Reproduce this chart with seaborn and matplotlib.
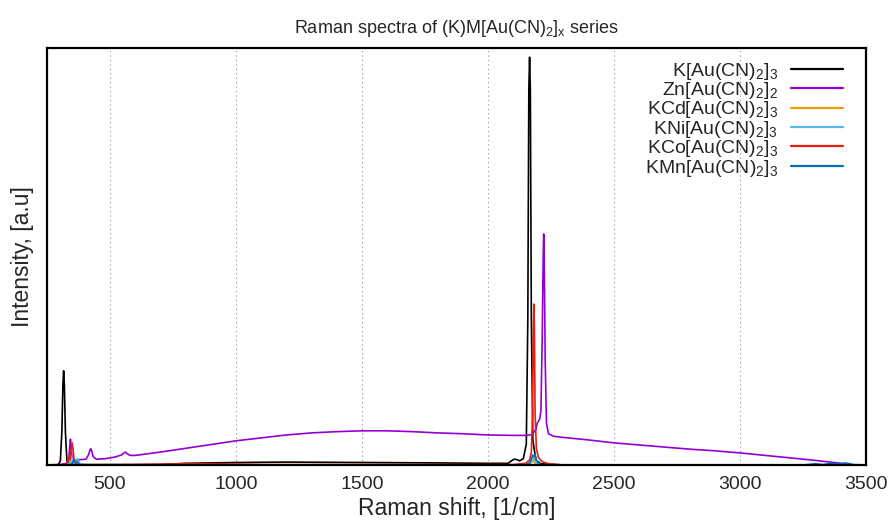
import numpy as np
import pandas as pd
import matplotlib
matplotlib.use("Agg")
import matplotlib.pyplot as plt
import seaborn as sns

# ---- data (intensity in arbitrary units) ----
series_names = ["K[Au(CN)$_2$]$_3$", "Zn[Au(CN)$_2$]$_2$", "KCd[Au(CN)$_2$]$_3$",
                "KNi[Au(CN)$_2$]$_3$", "KCo[Au(CN)$_2$]$_3$", "KMn[Au(CN)$_2$]$_3$"]
series_colors = ["#000000", "#9400d3", "#e69f00", "#56b4e9", "#e51e10", "#0072b2"]

k_x = [250, 295, 303, 309, 313, 316, 319, 323, 329, 340, 400, 700, 800, 1000, 1200, 1500,
       1800, 2000, 2080, 2095, 2105, 2115, 2125, 2140, 2152, 2158, 2162, 2165, 2168, 2172,
       2178, 2190, 2210, 2300, 3500]
k_y = [0.0, 0.001, 0.01, 0.08, 0.19, 0.226, 0.19, 0.08, 0.01, 0.002, 0.001, 0.001, 0.004,
       0.006, 0.007, 0.006, 0.005, 0.004, 0.004, 0.011, 0.014, 0.013, 0.01, 0.015, 0.05,
       0.35, 0.9, 0.978, 0.9, 0.35, 0.06, 0.012, 0.003, 0.0, 0.0]

zn_x = [290, 330, 337, 341, 343, 345, 349, 356, 365, 405, 415, 421, 424, 427, 433, 445,
        480, 520, 545, 556, 562, 568, 580, 600, 700, 800, 900, 1000, 1100, 1200, 1300,
        1400, 1500, 1600, 1700, 1800, 1900, 2000, 2100, 2150, 2175, 2190, 2195, 2200,
        2205, 2210, 2215, 2219, 2221, 2223, 2227, 2232, 2240, 2260, 2300, 2400, 2500, 2600,
        2700, 2800, 2900, 3000, 3100, 3200, 3300, 3400, 3455, 3500]
zn_y = [0.0, 0.004, 0.02, 0.05, 0.062, 0.05, 0.02, 0.012, 0.012, 0.014, 0.025, 0.037,
        0.039, 0.035, 0.02, 0.014, 0.015, 0.019, 0.024, 0.029, 0.031, 0.027, 0.023, 0.023,
        0.031, 0.040, 0.049, 0.058, 0.065, 0.072, 0.077, 0.080, 0.082, 0.082, 0.080,
        0.077, 0.075, 0.072, 0.071, 0.071, 0.073, 0.085, 0.1, 0.105, 0.11, 0.13, 0.3,
        0.5, 0.554, 0.5, 0.25, 0.1, 0.075, 0.069, 0.066, 0.06, 0.053, 0.048, 0.043, 0.038,
        0.034, 0.029, 0.023, 0.017, 0.011, 0.004, 0.0, 0.0]

cd_x = [250, 330, 345, 352, 360, 400, 2150, 2170, 2178, 2186, 2200, 3500]
cd_y = [0.0, 0.0, 0.004, 0.012, 0.003, 0.0, 0.0, 0.004, 0.012, 0.004, 0.0, 0.0]

ni_x = [250, 330, 340, 347, 354, 362, 372, 380, 400, 2150, 2170, 2178, 2185, 2195, 2210, 3500]
ni_y = [0.0, 0.0, 0.006, 0.022, 0.008, 0.012, 0.015, 0.004, 0.0, 0.0, 0.006, 0.02,
        0.012, 0.004, 0.0, 0.0]

co_x = [250, 325, 333, 337, 341, 346, 350, 354, 358, 364, 372, 400, 600, 700, 800, 900,
        1000, 1100, 2100, 2150, 2165, 2172, 2177, 2180, 2182, 2184, 2187, 2192, 2200, 2215,
        2240, 2300, 3500]
co_y = [0.0, 0.001, 0.01, 0.02, 0.012, 0.035, 0.053, 0.035, 0.01, 0.004, 0.001, 0.0,
        0.001, 0.002, 0.003, 0.003, 0.002, 0.001, 0.001, 0.004, 0.012, 0.03, 0.12, 0.33,
        0.386, 0.33, 0.12, 0.04, 0.018, 0.008, 0.003, 0.0, 0.0]

mn_x = [250, 340, 350, 356, 362, 370, 380, 2150, 2165, 2172, 2177, 2181, 2186, 2192,
        2200, 2215, 3250, 3300, 3330, 3360, 3390, 3420, 3450, 3500]
mn_y = [0.0, 0.0, 0.004, 0.012, 0.005, 0.008, 0.0, 0.0, 0.005, 0.014, 0.024, 0.02,
        0.026, 0.012, 0.005, 0.0, 0.0, 0.003, 0.001, 0.004, 0.002, 0.005, 0.001, 0.0]

series_x = [k_x, zn_x, cd_x, ni_x, co_x, mn_x]
series_y = [k_y, zn_y, cd_y, ni_y, co_y, mn_y]

x_ticks = [500, 1000, 1500, 2000, 2500, 3000, 3500]

# ---- build long table ----
frames = []
for name, xs, ys in zip(series_names, series_x, series_y):
    frames.append(pd.DataFrame({"shift": xs, "intensity": ys, "sample": name}))
df = pd.concat(frames, ignore_index=True)

# ---- style ----
sns.set_style("white")
plt.rcParams["font.family"] = ["Liberation Sans", "DejaVu Sans"]
plt.rcParams["mathtext.fontset"] = "custom"
plt.rcParams["mathtext.rm"] = "Liberation Sans"
plt.rcParams["mathtext.it"] = "Liberation Sans"
plt.rcParams["mathtext.default"] = "regular"

fig = plt.figure(figsize=(8.93, 5.29), dpi=100)
ax = fig.add_axes([47 / 893, 64 / 529, 819 / 893, 417 / 529])

sns.lineplot(data=df, x="shift", y="intensity", hue="sample", hue_order=series_names,
             palette=dict(zip(series_names, series_colors)), estimator=None,
             linewidth=1.2, ax=ax)

ax.set_xlim(250, 3500)
ax.set_ylim(0, 1.0)
ax.set_xticks(x_ticks)
ax.set_yticks([])
ax.tick_params(axis="x", direction="in", length=6, width=1.2, labelsize=14, pad=8,
               top=False)
for s in ax.spines.values():
    s.set_linewidth(1.6)
    s.set_color("black")

for xv in x_ticks[:-1]:
    ax.axvline(xv, color="#8c8c8c", linewidth=0.8, linestyle=(0, (1, 3)), zorder=0)

ax.set_xlabel("Raman shift, [1/cm]", fontsize=16.5, labelpad=3)
ax.set_ylabel("Intensity, [a.u]", fontsize=16.5, labelpad=9)
ax.set_title("Raman spectra of (K)M[Au(CN)$_2$]$_x$ series", fontsize=13, pad=11)

handles, labels = ax.get_legend_handles_labels()
leg = ax.legend(handles, labels, loc="upper right", bbox_to_anchor=(0.972, 0.97),
                frameon=False, markerfirst=False, fontsize=14, handlelength=2.7,
                labelspacing=-0.08, borderpad=0, borderaxespad=0, handletextpad=0.65)
for line in leg.get_lines():
    line.set_linewidth(1.6)

fig.savefig("out.png", dpi=100)
